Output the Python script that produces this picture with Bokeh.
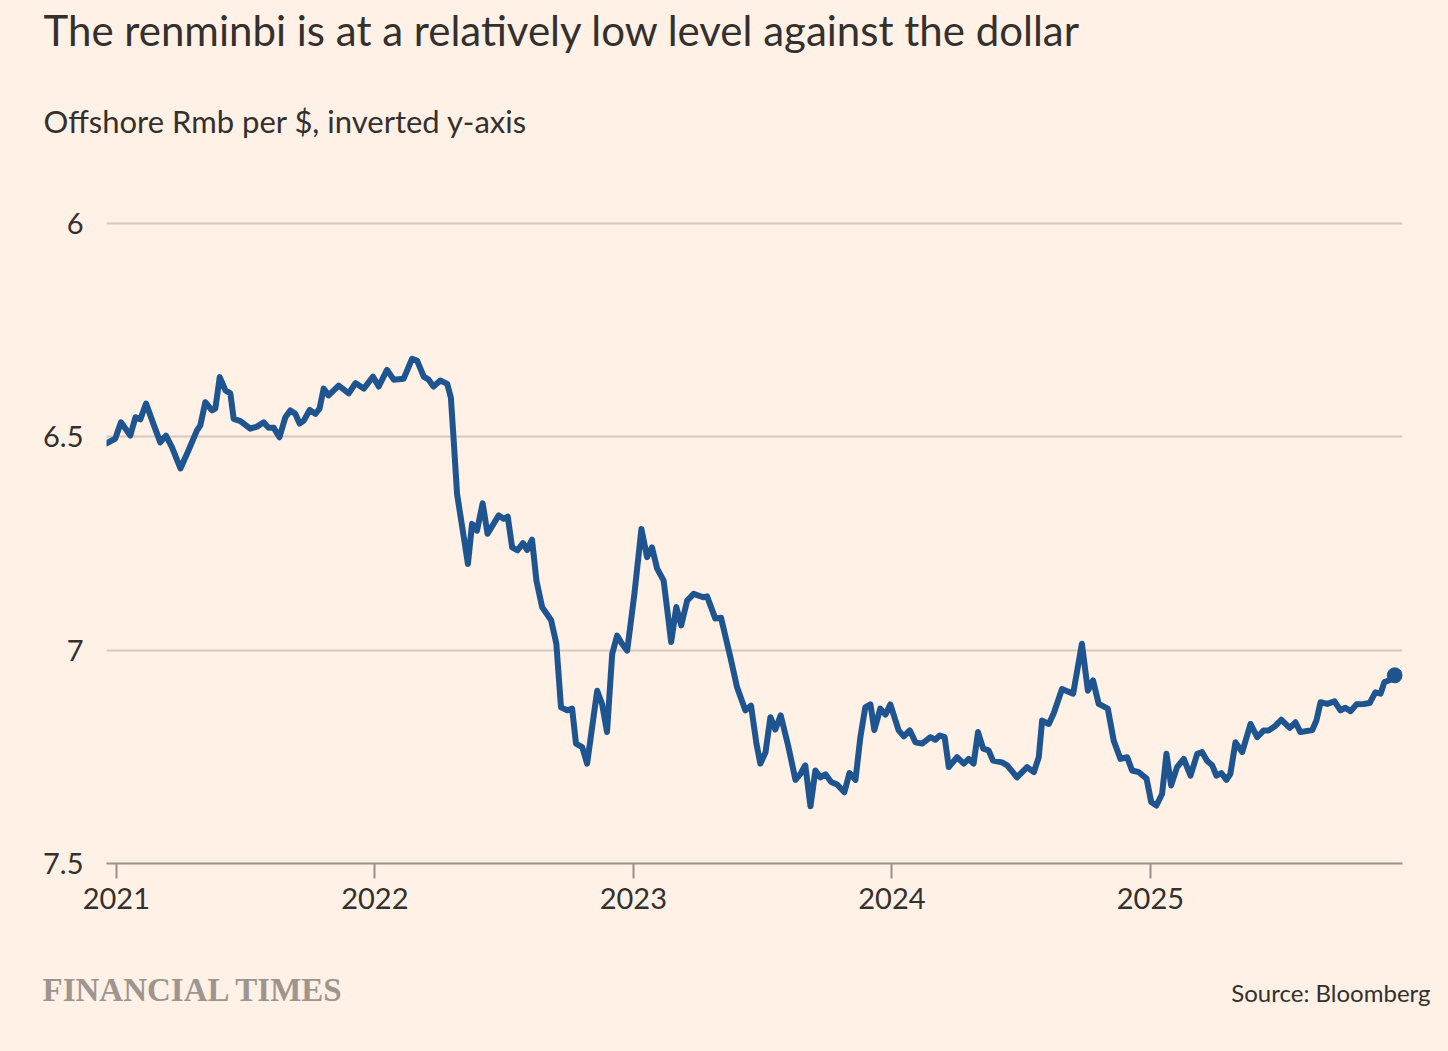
from jinja2 import Template
from bokeh.plotting import figure
from bokeh.models import Range1d, FixedTicker, Label, ColumnDataSource
from bokeh.embed import file_html
from bokeh.resources import INLINE
from bokeh.core.templates import FILE

# Decimal-year dates and offshore Rmb per $
years = [2020.964, 2020.996, 2021.018, 2021.054, 2021.074, 2021.093, 2021.115, 2021.143, 2021.170, 2021.192,
         2021.215, 2021.248, 2021.279, 2021.312, 2021.325, 2021.344, 2021.370, 2021.383, 2021.400, 2021.422,
         2021.441, 2021.454, 2021.480, 2021.518, 2021.544, 2021.570, 2021.589, 2021.609, 2021.631, 2021.654,
         2021.673, 2021.692, 2021.709, 2021.725, 2021.748, 2021.770, 2021.786, 2021.802, 2021.821, 2021.860,
         2021.899, 2021.925, 2021.957, 2021.993, 2022.015, 2022.047, 2022.073, 2022.111, 2022.144, 2022.163,
         2022.189, 2022.208, 2022.227, 2022.253, 2022.280, 2022.294, 2022.305, 2022.318, 2022.344, 2022.360,
         2022.376, 2022.395, 2022.417, 2022.436, 2022.479, 2022.498, 2022.514, 2022.531, 2022.552, 2022.573,
         2022.589, 2022.608, 2022.625, 2022.647, 2022.682, 2022.702, 2022.720, 2022.744, 2022.763, 2022.778,
         2022.802, 2022.821, 2022.860, 2022.879, 2022.898, 2022.918, 2022.937, 2022.956, 2022.976, 2023.004,
         2023.031, 2023.053, 2023.072, 2023.092, 2023.117, 2023.133, 2023.146, 2023.166, 2023.185, 2023.208,
         2023.233, 2023.270, 2023.285, 2023.317, 2023.339, 2023.375, 2023.401, 2023.433, 2023.455, 2023.476,
         2023.491, 2023.511, 2023.530, 2023.549, 2023.570, 2023.598, 2023.627, 2023.646, 2023.665, 2023.685,
         2023.704, 2023.723, 2023.743, 2023.765, 2023.788, 2023.816, 2023.836, 2023.859, 2023.878, 2023.897,
         2023.917, 2023.932, 2023.955, 2023.975, 2023.994, 2024.026, 2024.046, 2024.069, 2024.091, 2024.117,
         2024.149, 2024.168, 2024.185, 2024.204, 2024.220, 2024.252, 2024.278, 2024.297, 2024.316, 2024.333,
         2024.353, 2024.374, 2024.391, 2024.426, 2024.446, 2024.484, 2024.523, 2024.549, 2024.568, 2024.581,
         2024.607, 2024.626, 2024.658, 2024.701, 2024.735, 2024.758, 2024.778, 2024.800, 2024.835, 2024.858,
         2024.884, 2024.910, 2024.929, 2024.955, 2024.985, 2025.003, 2025.023, 2025.045, 2025.062, 2025.080,
         2025.103, 2025.129, 2025.155, 2025.181, 2025.200, 2025.219, 2025.239, 2025.255, 2025.274, 2025.294,
         2025.309, 2025.329, 2025.355, 2025.387, 2025.413, 2025.438, 2025.458, 2025.484, 2025.506, 2025.539,
         2025.561, 2025.580, 2025.626, 2025.642, 2025.658, 2025.684, 2025.712, 2025.735, 2025.754, 2025.774,
         2025.797, 2025.825, 2025.848, 2025.870, 2025.890, 2025.905, 2025.922, 2025.945]

rate = [6.515, 6.504, 6.466, 6.497, 6.454, 6.459, 6.422, 6.469, 6.513, 6.497,
        6.524, 6.574, 6.532, 6.485, 6.473, 6.419, 6.438, 6.434, 6.360, 6.391,
        6.398, 6.458, 6.463, 6.481, 6.476, 6.466, 6.479, 6.479, 6.501, 6.454,
        6.438, 6.446, 6.469, 6.462, 6.437, 6.446, 6.434, 6.387, 6.403, 6.380,
        6.398, 6.374, 6.387, 6.359, 6.382, 6.343, 6.366, 6.364, 6.317, 6.321,
        6.359, 6.366, 6.382, 6.368, 6.376, 6.408, 6.509, 6.634, 6.735, 6.798,
        6.704, 6.720, 6.656, 6.727, 6.684, 6.692, 6.687, 6.759, 6.766, 6.749,
        6.765, 6.741, 6.837, 6.899, 6.930, 6.985, 7.134, 7.141, 7.137, 7.219,
        7.227, 7.266, 7.095, 7.126, 7.192, 7.009, 6.966, 6.985, 7.001, 6.868,
        6.716, 6.782, 6.759, 6.809, 6.837, 6.915, 6.981, 6.899, 6.942, 6.884,
        6.868, 6.876, 6.874, 6.926, 6.924, 7.016, 7.087, 7.141, 7.130, 7.219,
        7.266, 7.240, 7.157, 7.186, 7.153, 7.222, 7.304, 7.290, 7.270, 7.366,
        7.282, 7.298, 7.291, 7.309, 7.315, 7.333, 7.288, 7.304, 7.204, 7.134,
        7.127, 7.187, 7.137, 7.151, 7.127, 7.188, 7.202, 7.188, 7.216, 7.219,
        7.204, 7.210, 7.200, 7.204, 7.274, 7.251, 7.266, 7.255, 7.266, 7.192,
        7.231, 7.235, 7.259, 7.263, 7.270, 7.298, 7.274, 7.286, 7.251, 7.165,
        7.173, 7.148, 7.091, 7.102, 6.985, 7.095, 7.071, 7.126, 7.137, 7.212,
        7.255, 7.251, 7.282, 7.286, 7.301, 7.356, 7.364, 7.337, 7.243, 7.317,
        7.274, 7.255, 7.294, 7.243, 7.239, 7.259, 7.270, 7.294, 7.288, 7.304,
        7.290, 7.216, 7.239, 7.173, 7.204, 7.188, 7.188, 7.177, 7.163, 7.182,
        7.169, 7.192, 7.187, 7.165, 7.122, 7.126, 7.120, 7.141, 7.135, 7.143,
        7.127, 7.126, 7.124, 7.099, 7.102, 7.075, 7.071, 7.059]

y_ticks = [6.0, 6.5, 7.0, 7.5]
y_tick_labels = {6.0: "6", 6.5: "6.5", 7.0: "7", 7.5: "7.5"}
x_ticks = [2021, 2022, 2023, 2024, 2025]

BG = "#FFF1E5"
TEXT = "#33302E"
LINE = "#1E5591"
FONT = "Lato"
W = 1432


def text_panel(height):
    # a text-only strip whose frame spans its whole canvas
    f = figure(width=W, height=height, output_backend="svg", toolbar_location=None,
               x_range=Range1d(0, W), y_range=Range1d(height, 0),
               x_axis_location=None, y_axis_location=None,
               min_border_left=0, min_border_right=0, min_border_top=0, min_border_bottom=0)
    f.background_fill_color = BG
    f.border_fill_color = BG
    f.outline_line_color = None
    f.grid.visible = False
    return f


# Header with title and subtitle
header = text_panel(180)
header.add_layout(Label(x=43, y=29, text="The renminbi is at a relatively low level against the dollar",
                        text_font=FONT, text_font_size="42px", text_color=TEXT,
                        text_baseline="alphabetic"))
header.add_layout(Label(x=43, y=120, text="Offshore Rmb per $, inverted y-axis",
                        text_font=FONT, text_font_size="31px", text_color=TEXT,
                        text_baseline="alphabetic"))

# Main chart
p = figure(width=W, height=760, output_backend="svg", toolbar_location=None,
           x_range=Range1d(2020.962, 2025.975), y_range=Range1d(7.5, 5.98125),
           min_border_left=106, min_border_right=30, min_border_top=35, min_border_bottom=77)
p.background_fill_color = BG
p.border_fill_color = BG
p.outline_line_color = None

p.xgrid.visible = False
p.ygrid.ticker = FixedTicker(ticks=y_ticks[:-1])
p.ygrid.grid_line_color = "#D6C9BC"
p.ygrid.grid_line_width = 2

xa = p.xaxis[0]
xa.ticker = FixedTicker(ticks=x_ticks)
xa.axis_line_color = "#9A918A"
xa.axis_line_width = 2
xa.major_tick_line_color = "#9A918A"
xa.major_tick_line_width = 2
xa.major_tick_out = 15
xa.major_tick_in = 0
xa.minor_tick_line_color = None
xa.major_label_text_font = FONT
xa.major_label_text_font_size = "29px"
xa.major_label_text_color = TEXT
xa.major_label_standoff = 9

ya = p.yaxis[0]
ya.ticker = FixedTicker(ticks=y_ticks)
ya.major_label_overrides = y_tick_labels
ya.axis_line_color = None
ya.major_tick_line_color = None
ya.minor_tick_line_color = None
ya.major_label_text_font = FONT
ya.major_label_text_font_size = "29px"
ya.major_label_text_color = TEXT
ya.major_label_standoff = 17

src = ColumnDataSource(dict(x=years, y=rate))
p.line("x", "y", source=src, line_color=LINE, line_width=6, line_join="round", line_cap="round")
p.scatter(x=years[-1:], y=rate[-1:], size=15, fill_color=LINE, line_color=LINE)

# Footer with branding and source
footer = text_panel(95)
footer.add_layout(Label(x=42, y=49, text="FINANCIAL TIMES",
                        text_font="Liberation Serif", text_font_size="33px", text_font_style="bold",
                        text_color="#9E958F", text_baseline="alphabetic"))
footer.add_layout(Label(x=1430, y=52, text="Source: Bloomberg",
                        text_font=FONT, text_font_size="24px", text_color=TEXT,
                        text_align="right", text_baseline="alphabetic"))

# page background matches the chart paper colour
page = Template("{% extends base %}{% block preamble %}"
                "<style>html, body { background-color: #FFF1E5; }</style>"
                "{% endblock %}")

# three separate roots stacked on the page (no frame alignment between them)
html = file_html([header, p, footer], INLINE, template=page, template_variables={"base": FILE})
open("out.html", "w").write(html)
